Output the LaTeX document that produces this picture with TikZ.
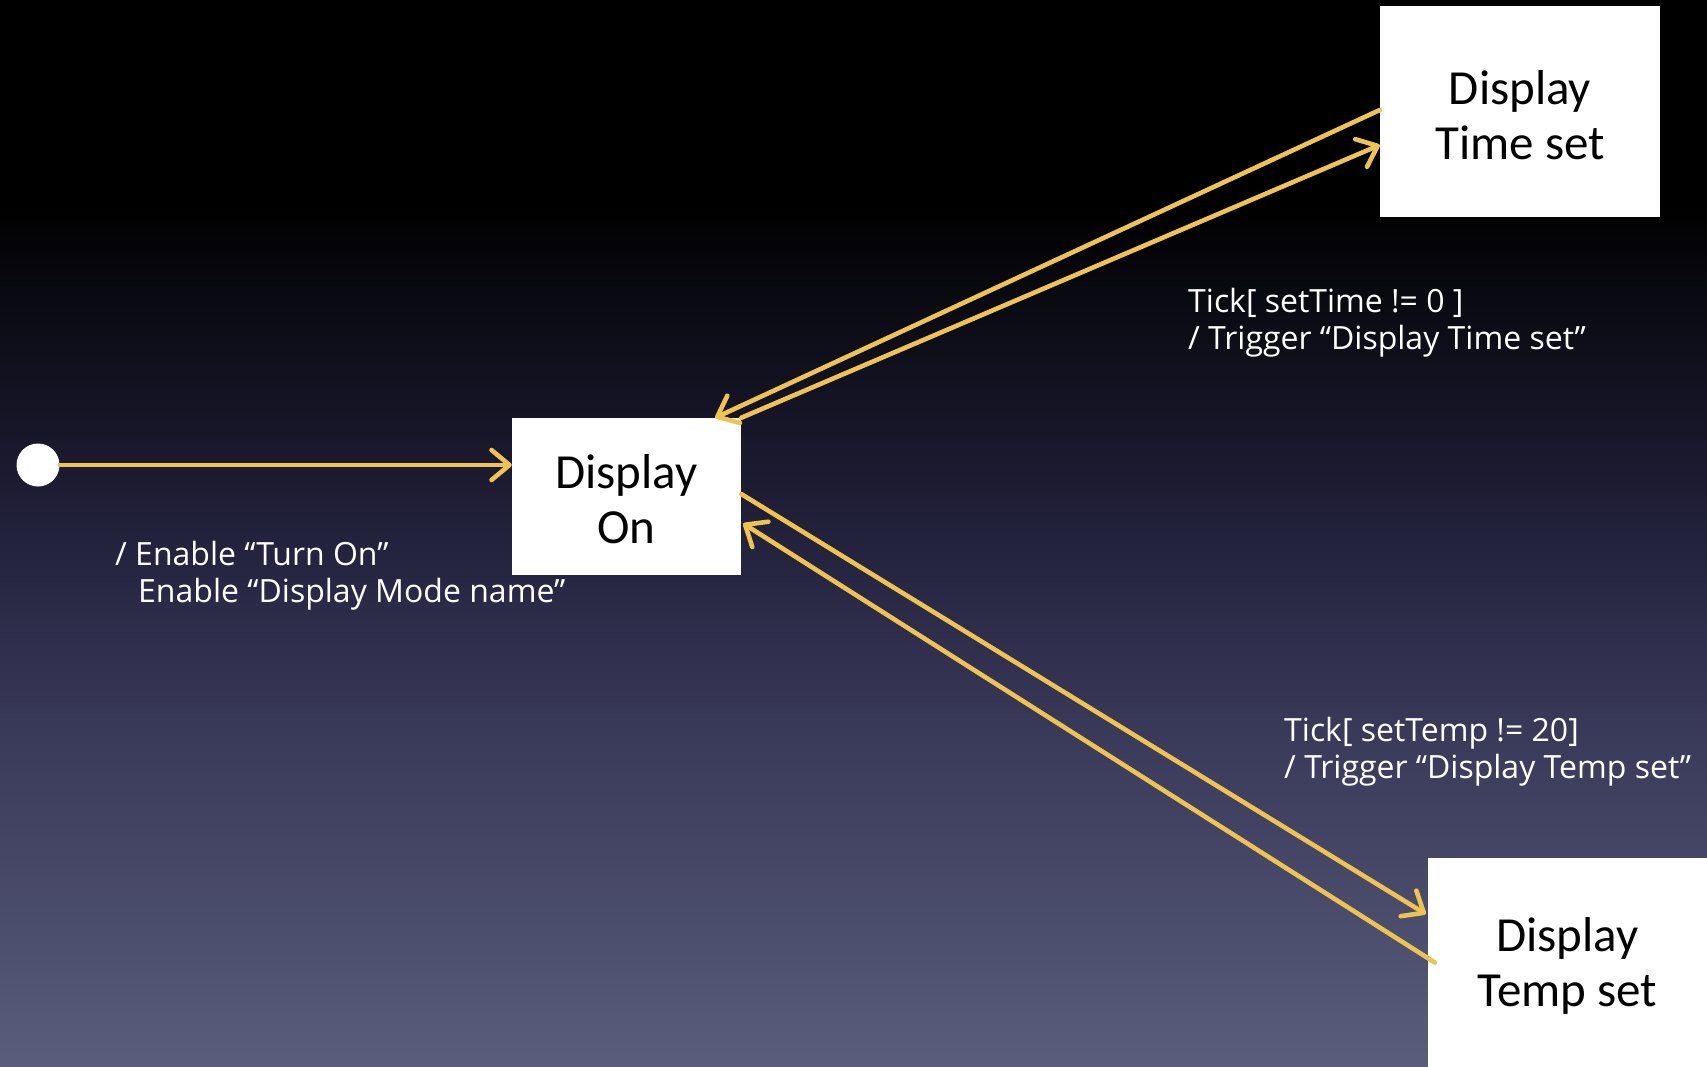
\documentclass[tikz,border=0pt]{standalone}
\usepackage{fontspec}
\setmainfont{Carlito}
\newfontfamily\labelfont{Open Sans}
\usetikzlibrary{arrows.meta,calc}
\definecolor{arr}{HTML}{EEC253}
\definecolor{bga}{HTML}{5A5E7C}
\definecolor{bgb}{HTML}{4E5070}
\definecolor{bgc}{HTML}{3B3B5B}
\definecolor{bgd}{HTML}{2A2946}
\definecolor{bge}{HTML}{1B1A30}
\definecolor{bgf}{HTML}{0C0C16}
\pgfdeclareverticalshading{bgshade}{100bp}{color(0bp)=(bga); color(25bp)=(bga); color(30.5bp)=(bgb); color(40bp)=(bgc); color(47bp)=(bgd); color(53bp)=(bge); color(60bp)=(bgf); color(65.5bp)=(black); color(75bp)=(black); color(100bp)=(black)}
\begin{document}
\begin{tikzpicture}[x=1pt,y=-1pt,
  state/.style={fill=white, draw=none, inner sep=0pt},
  statetext/.style={align=center, text=black, font=\fontsize{49}{55}\selectfont, inner sep=0pt, yshift=-3pt},
  conn/.style={draw=arr, line width=4.6pt, line cap=round, -{Straight Barb[length=18pt,width=30pt,line cap=round,line join=round]}},
  lab/.style={text=white, align=left, anchor=base west, font=\labelfont\fontsize{32}{37}\selectfont, inner sep=0pt}]
\useasboundingbox (0,0) rectangle (1707,1067);
\shade[shading=bgshade] (0,0) rectangle (1707,1067);

\node[state, minimum width=229pt, minimum height=157pt, label={[statetext]center:Display\\On}] (on) at (626.5,496.5) {};
\node[state, minimum width=280pt, minimum height=211pt, label={[statetext]center:Display\\Time set}] (time) at (1520,112) {};
\node[state, minimum width=279pt, minimum height=209pt, label={[statetext]center:Display\\Temp set}] (temp) at (1567.5,962.5) {};
\node[circle, fill=white, minimum size=43pt, inner sep=0pt] (init) at (38,465) {};

\draw[conn] (init.east) -- (init.east -| on.west);
\draw[conn] ([yshift=2pt]time.west) -- ([xshift=-26pt]on.north east);
\draw[conn] (on.north east) -- ([yshift=-33pt]time.west);
\draw[conn] ([yshift=2.5pt]on.east) -- ([xshift=-2pt,yshift=48.5pt]temp.west);
\draw[conn] ([xshift=7pt]temp.west) -- ([xshift=2pt,yshift=-27pt]on.east);

\node[lab] (l1) at (115,602) {/ Enable “Turn On”\\\hspace*{23pt}Enable “Display Mode name”};
\node[lab] (l2) at (1188,349) {Tick[ setTime != 0 ]\\/ Trigger “Display Time set”};
\node[lab] (l3) at (1284,778) {Tick[ setTemp != 20]\\/ Trigger “Display Temp set”};
\end{tikzpicture}
\end{document}
